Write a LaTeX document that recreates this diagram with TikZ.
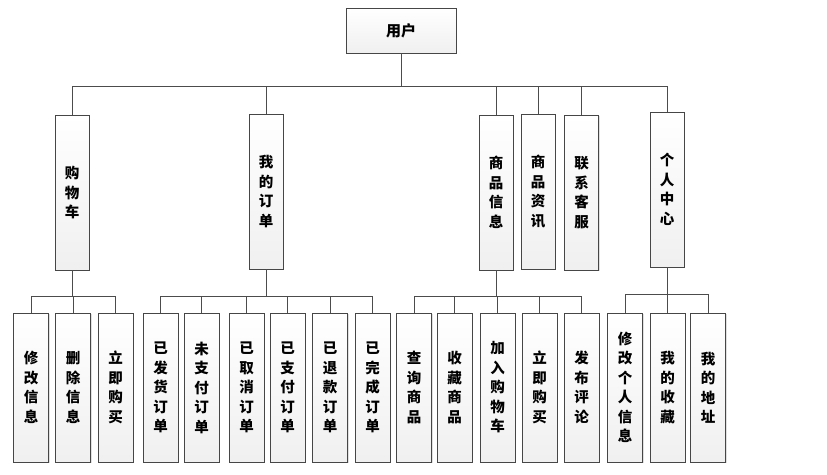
\documentclass[tikz,border=0pt]{standalone}
\usepackage{fontspec}
\newfontfamily\cjk{Noto Sans CJK SC}
\usetikzlibrary{shadows}
\tikzset{
  boxbase/.style={draw=gray!55!black, line width=0.8pt, top color=white, bottom color=gray!12,
    drop shadow={shadow xshift=1.4pt, shadow yshift=-1.4pt, fill=gray!40, opacity=0.6},
    inner sep=0pt, align=center, font=\cjk\bfseries\fontsize{14.5}{19.5}\selectfont},
  rootbox/.style={boxbase, minimum width=110pt, minimum height=45pt, font=\cjk\bfseries\fontsize{15}{18}\selectfont},
  midbox/.style={boxbase, minimum width=34pt, minimum height=155pt},
  leafbox/.style={boxbase, minimum width=35pt, minimum height=149pt},
  edge/.style={draw=gray!60!black, line width=0.8pt}
}
\begin{document}
\begin{tikzpicture}[x=1pt,y=-1pt]
\useasboundingbox[fill=white] (0,0) rectangle (827,474);
% root
\node[rootbox] (root) at (401,30.5) {用户};
% level 2
\node[midbox] (cart) at (72,192.5) {购\\物\\车};
\node[midbox] (order) at (266,191.5) {我\\的\\订\\单};
\node[midbox] (goods) at (496,192.5) {商\\品\\信\\息};
\node[midbox] (news) at (538,191.5) {商\\品\\资\\讯};
\node[midbox] (serv) at (581.5,192.5) {联\\系\\客\\服};
\node[midbox] (me) at (667,189.5) {个\\人\\中\\心};
% level 3
\node[leafbox] (c1) at (31,387.5) {修\\改\\信\\息};
\node[leafbox] (c2) at (73,387.5) {删\\除\\信\\息};
\node[leafbox] (c3) at (115.5,387.5) {立\\即\\购\\买};
\node[leafbox] (o1) at (160.5,387.5) {已\\发\\货\\订\\单};
\node[leafbox] (o2) at (201.5,387.5) {未\\支\\付\\订\\单};
\node[leafbox] (o3) at (246.5,387.5) {已\\取\\消\\订\\单};
\node[leafbox] (o4) at (287.5,387.5) {已\\支\\付\\订\\单};
\node[leafbox] (o5) at (330,387.5) {已\\退\\款\\订\\单};
\node[leafbox] (o6) at (372.5,387.5) {已\\完\\成\\订\\单};
\node[leafbox] (g1) at (414,387.5) {查\\询\\商\\品};
\node[leafbox] (g2) at (454.5,387.5) {收\\藏\\商\\品};
\node[leafbox] (g3) at (497.5,387.5) {加\\入\\购\\物\\车};
\node[leafbox] (g4) at (539.5,387.5) {立\\即\\购\\买};
\node[leafbox] (g5) at (581.5,387.5) {发\\布\\评\\论};
\node[leafbox] (m1) at (625,387.5) {修\\改\\个\\人\\信\\息};
\node[leafbox] (m2) at (667.5,387.5) {我\\的\\收\\藏};
\node[leafbox] (m3) at (708,387.5) {我\\的\\地\\址};
% buses
\coordinate (b0) at (401,86);
\coordinate (bc) at (72,296);
\coordinate (bo) at (266,296);
\coordinate (bg) at (496,296);
\coordinate (bm) at (667,294);
% edges
\draw[edge] (root.south) -- (b0);
\foreach \n in {cart,order,goods,news,serv,me} \draw[edge] (b0) -| (\n.north);
\draw[edge] (cart.south) -- (bc);
\foreach \n in {c1,c2,c3} \draw[edge] (bc) -| (\n.north);
\draw[edge] (order.south) -- (bo);
\foreach \n in {o1,o2,o3,o4,o5,o6} \draw[edge] (bo) -| (\n.north);
\draw[edge] (goods.south) -- (bg);
\foreach \n in {g1,g2,g3,g4,g5} \draw[edge] (bg) -| (\n.north);
\draw[edge] (me.south) -- (bm);
\foreach \n in {m1,m2,m3} \draw[edge] (bm) -| (\n.north);
\end{tikzpicture}
\end{document}
